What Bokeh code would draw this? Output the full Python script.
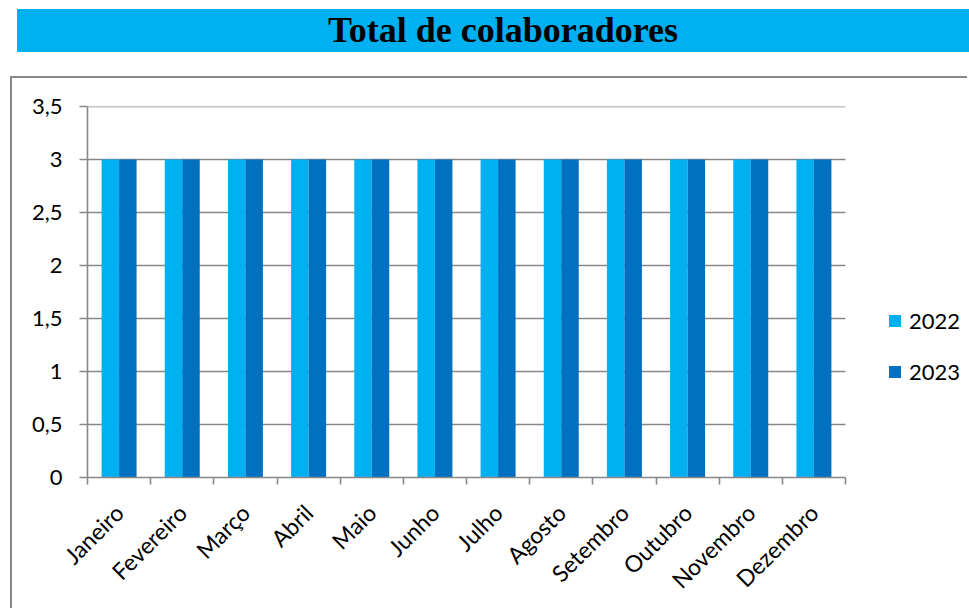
import numpy as np
from bokeh.plotting import figure
from bokeh.layouts import column
from bokeh.models import (Range1d, FixedTicker, CustomJSTickFormatter,
                          ColumnDataSource, Legend, LegendItem, Div)
from bokeh.embed import file_html
from bokeh.resources import INLINE

# ---- data ----
months = ["Janeiro", "Fevereiro", "Março", "Abril", "Maio", "Junho", "Julho",
          "Agosto", "Setembro", "Outubro", "Novembro", "Dezembro"]
series_names = ["2022", "2023"]
values_2022 = [3, 3, 3, 3, 3, 3, 3, 3, 3, 3, 3, 3]
values_2023 = [3, 3, 3, 3, 3, 3, 3, 3, 3, 3, 3, 3]
y_ticks = [0, 0.5, 1, 1.5, 2, 2.5, 3, 3.5]
title_text = "Total de colaboradores"

C1 = "#00B0F0"
C2 = "#0070C0"
GRAY = "#878787"
FONT = "Lato"

# ---- title banner ----
banner = Div(
    text=('<div style="width:952px;height:43px;background:%s;box-sizing:border-box;'
          'padding-left:20px;text-align:center;line-height:43px;'
          'font-family:\'Liberation Serif\',serif;font-weight:bold;font-size:36px;'
          'color:black;white-space:nowrap;">%s</div>') % (C1, title_text),
    width=952, height=43, margin=(9, 0, 0, 17))

# ---- chart ----
W, H = 957, 532
LEFT, TOP, BOTTOM = 75, 28, 133
PLOT_W = 758                      # width of the category area in px
n = len(months)
px_per_cat = PLOT_W / n
x_end = n + (W - LEFT - PLOT_W) / px_per_cat   # room on the right for the legend

idx = np.arange(n)
centers = idx + 0.5
bw = 0.277

src = ColumnDataSource(dict(x1=centers - bw / 2, x2=centers + bw / 2,
                            v1=values_2022, v2=values_2023))

p = figure(width=W, height=H, output_backend="svg", toolbar_location=None,
           x_range=Range1d(0, x_end), y_range=Range1d(y_ticks[0], y_ticks[-1]),
           min_border_left=LEFT, min_border_right=0,
           min_border_top=TOP, min_border_bottom=BOTTOM,
           margin=(24, 0, 0, 10),
           styles={"border-top": "2px solid " + GRAY, "border-left": "2px solid " + GRAY})
p.outline_line_color = None
p.background_fill_color = "white"
p.border_fill_color = "white"
p.xgrid.grid_line_color = None
p.ygrid.grid_line_color = None

# horizontal gridlines over the category area only
gsrc = ColumnDataSource(dict(y=y_ticks[1:], x0=[0] * (len(y_ticks) - 1),
                             x1=[n] * (len(y_ticks) - 1)))
p.segment(x0="x0", x1="x1", y0="y", y1="y", source=gsrc, line_color=GRAY, line_width=1.6)

r1 = p.vbar(x="x1", width=bw, top="v1", source=src, fill_color=C1, line_color=None)
r2 = p.vbar(x="x2", width=bw, top="v2", source=src, fill_color=C2, line_color=None)

# y axis
yax = p.yaxis[0]
yax.ticker = FixedTicker(ticks=y_ticks)
yax.formatter = CustomJSTickFormatter(code="return tick.toString().replace('.', ',');")
yax.axis_line_color = GRAY
yax.axis_line_width = 1.6
yax.major_tick_line_color = GRAY
yax.major_tick_line_width = 1.6
yax.major_tick_out = 8
yax.major_tick_in = 0
yax.minor_tick_line_color = None
yax.major_label_text_font = FONT
yax.major_label_text_font_size = "22px"
yax.major_label_text_color = "black"
yax.major_label_standoff = 17

# x axis
xax = p.xaxis[0]
xax.bounds = (0, n)
xax.ticker = FixedTicker(ticks=list(centers), minor_ticks=list(range(n + 1)))
xax.formatter = CustomJSTickFormatter(args=dict(months=months),
                                      code="return months[Math.round(tick - 0.5)];")
xax.axis_line_color = GRAY
xax.axis_line_width = 1.6
xax.major_tick_line_color = None
xax.major_tick_out = 7
xax.major_tick_in = 0
xax.minor_tick_line_color = GRAY
xax.minor_tick_line_width = 1.6
xax.minor_tick_out = 7
xax.minor_tick_in = 0
xax.major_label_orientation = np.pi / 4
xax.major_label_text_font = FONT
xax.major_label_text_font_size = "23px"
xax.major_label_text_color = "black"
xax.major_label_standoff = 24

# legend
legend = Legend(items=[LegendItem(label=series_names[0], renderers=[r1]),
                       LegendItem(label=series_names[1], renderers=[r2])],
                location=(800, 92), orientation="vertical",
                padding=0, margin=0, border_line_color=None, background_fill_alpha=0,
                glyph_width=15, glyph_height=15, label_standoff=7,
                label_text_font=FONT, label_text_font_size="22px",
                label_text_color="black",
                label_height=24, spacing=24)
p.add_layout(legend, "center")

layout = column(banner, p, spacing=0)
open("out.html", "w").write(file_html(layout, INLINE))
